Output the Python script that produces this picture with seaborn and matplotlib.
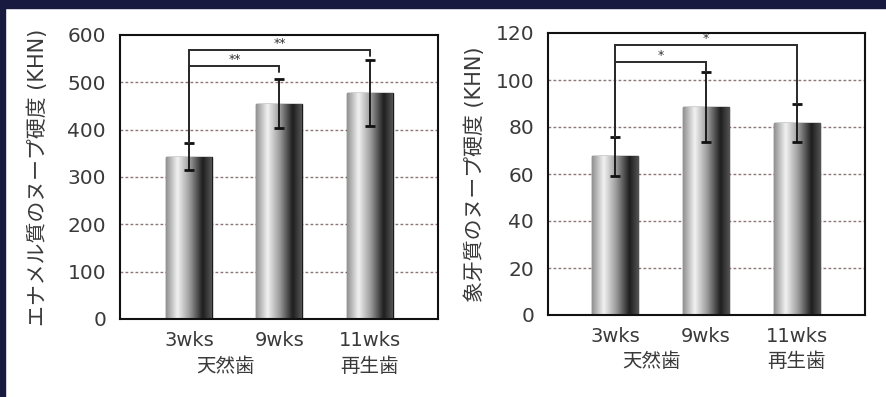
import numpy as np
import pandas as pd
import matplotlib
matplotlib.use("Agg")
import matplotlib.pyplot as plt
from matplotlib.colors import LinearSegmentedColormap
from matplotlib.patches import Rectangle
import matplotlib.transforms as mtransforms
import seaborn as sns

# ---- data ----
weeks = ["3wks", "9wks", "11wks"]
groups = ["天然歯", "再生歯"]
group_pos = [0.4, 2.0]

enamel_mean = [343, 455, 478]
enamel_err = [28, 52, 70]
dentin_mean = [67.5, 88.5, 81.7]
dentin_err = [8.3, 15, 8]

enamel_label = "エナメル質のヌープ硬度 (KHN)"
dentin_label = "象牙質のヌープ硬度 (KHN)"
enamel_ticks = [0, 100, 200, 300, 400, 500, 600]
dentin_ticks = [0, 20, 40, 60, 80, 100, 120]

# brackets: (left bar, right bar, bracket height, left leg end, right leg end, star text)
enamel_brackets = [(0, 1, 535, 371, 522, "**"), (0, 2, 569, 371, 556, "**")]
dentin_brackets = [(0, 1, 107.7, 75.8, 103.5, "*"), (0, 2, 114.9, 75.8, 89.7, "*")]

sns.set_style("white")
plt.rcParams["font.family"] = ["DejaVu Sans", "Noto Sans CJK JP"]

fig = plt.figure(figsize=(8.87, 3.97), dpi=100)
fig.patch.set_facecolor("white")

# navy frame strips
fig.patches.append(Rectangle((0, 1 - 8 / 397), 1, 8 / 397, transform=fig.transFigure,
                             color="#181b3f", zorder=0))
fig.patches.append(Rectangle((0, 0), 5 / 887, 1, transform=fig.transFigure,
                             color="#181b3f", zorder=0))

ax1 = fig.add_axes([120 / 887, 1 - 319 / 397, 318 / 887, 284 / 397])
ax2 = fig.add_axes([548 / 887, 1 - 315 / 397, 317 / 887, 282 / 397])

cmap = LinearSegmentedColormap.from_list(
    "cyl", [(0.0, "#909090"), (0.25, "#f2f2f2"), (0.52, "#9a9a9a"),
            (0.8, "#1e1e1e"), (1.0, "#555555")])
grad = np.linspace(0, 1, 256).reshape(1, -1)

tick_color = "#3a3a3a"


def draw(ax, means, errs, ticks, ylabel, brackets, xlim, label_x, star_size):
    df = pd.DataFrame({"week": weeks, "value": means})
    sns.barplot(data=df, x="week", y="value", ax=ax, color="white",
                edgecolor="#1a1a1a", linewidth=1.0, width=0.51, errorbar=None,
                zorder=2)
    ax.set_ylim(ticks[0], ticks[-1])
    ax.set_xlim(*xlim)
    centers = []
    for p in ax.patches:
        x0, y0, w, h = p.get_x(), p.get_y(), p.get_width(), p.get_height()
        centers.append(x0 + w / 2)
        im = ax.imshow(grad, cmap=cmap, aspect="auto", extent=(x0, x0 + w, y0, y0 + h),
                       zorder=2.5, interpolation="bicubic")
        im.set_clip_path(p)
    ax.set_ylim(ticks[0], ticks[-1])
    ax.set_xlim(*xlim)
    ax.errorbar(centers, means, yerr=errs, fmt="none", ecolor="#111111",
                elinewidth=1.3, capsize=3.5, capthick=2, zorder=4)
    # brackets
    for (i, j, yb, yl, yr, txt) in brackets:
        xi, xj = centers[i], centers[j]
        ax.plot([xi, xi, xj, xj], [yl, yb, yb, yr], color="#2a2a2a", lw=1.4,
                zorder=4, solid_joinstyle="miter")
        ax.text((xi + xj) / 2, yb, txt, ha="center", va="bottom", fontsize=star_size,
                color="#333333", zorder=5)
    # grid
    for t in ticks[1:-1]:
        ax.axhline(t, color="#8c7676", lw=1.0, ls=(0, (2, 1.6)), zorder=1)
    ax.set_yticks(ticks)
    ax.set_yticklabels([str(t) for t in ticks], fontsize=14.5, color=tick_color)
    ax.set_xticks(centers)
    ax.set_xticklabels(weeks, fontsize=14, color=tick_color)
    ax.tick_params(axis="y", length=0, pad=10)
    ax.tick_params(axis="x", length=0, pad=9)
    ax.set_xlabel("")
    ax.set_ylabel("")
    for s in ax.spines.values():
        s.set_visible(True)
        s.set_color("#111111")
        s.set_linewidth(1.5)
    trans = mtransforms.blended_transform_factory(ax.transData, ax.transAxes)
    for g, gx in zip(groups, group_pos):
        ax.text(gx, -0.166, g, transform=trans, ha="center", va="center",
                fontsize=14, color=tick_color)
    ax.text(label_x, 0.5, ylabel, transform=ax.transAxes, rotation=90,
            ha="center", va="center", fontsize=15, color=tick_color)


draw(ax1, enamel_mean, enamel_err, enamel_ticks, enamel_label, enamel_brackets,
     (-0.77, 2.76), -0.258, 9)
draw(ax2, dentin_mean, dentin_err, dentin_ticks, dentin_label, dentin_brackets,
     (-0.74, 2.75), -0.232, 9)

fig.savefig("out.png", dpi=100)
